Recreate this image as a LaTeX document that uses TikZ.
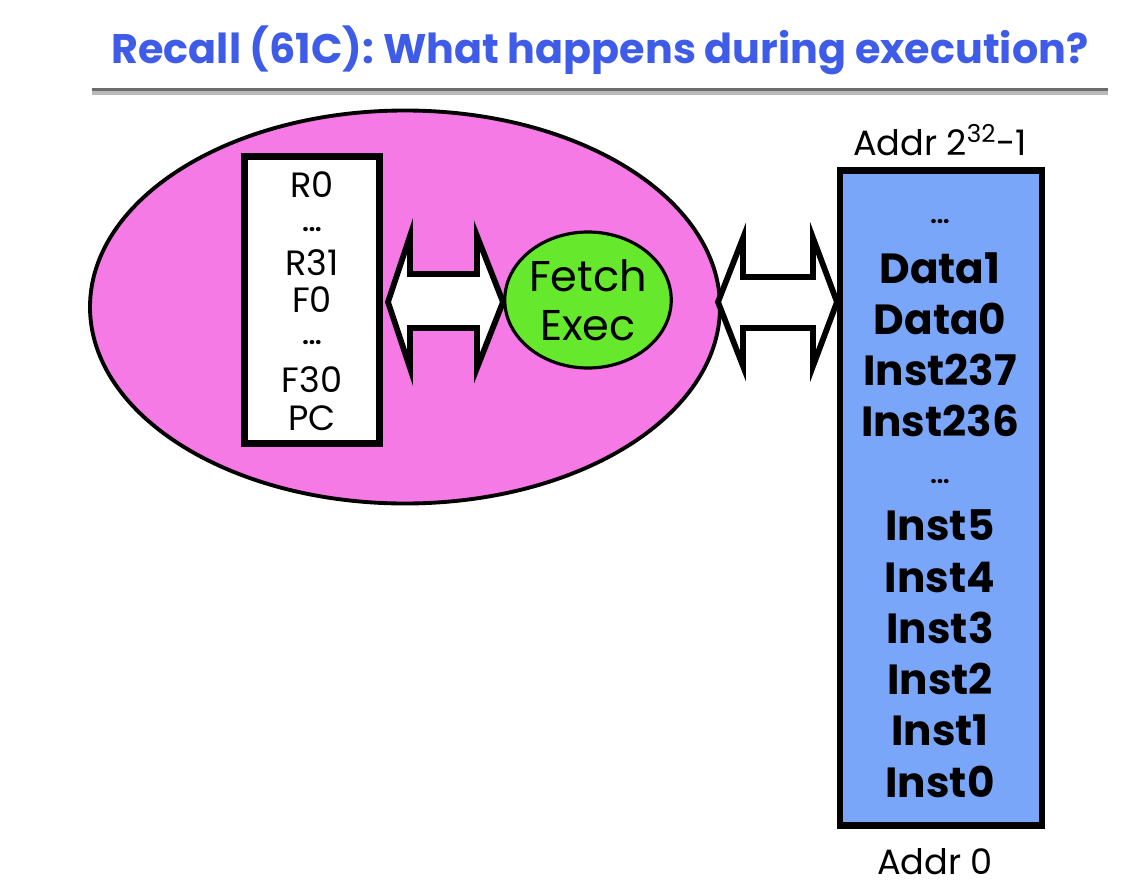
\documentclass[tikz,border=0pt]{standalone}
\usepackage{fontspec}
\setmainfont{Poppins}
\usetikzlibrary{calc,shapes.geometric}
\definecolor{titleblue}{RGB}{62,92,232}
\definecolor{cpupink}{RGB}{246,122,230}
\definecolor{fegreen}{RGB}{102,232,44}
\definecolor{memblue}{RGB}{122,166,250}
\tikzset{
  regtxt/.style={font=\fontsize{20}{20}\selectfont, anchor=center, inner sep=0pt},
  memtxt/.style={font=\fontsize{24}{24}\selectfont\bfseries, anchor=center, inner sep=0pt},
  dots/.style={font=\fontsize{13}{13}\selectfont\bfseries, anchor=center, inner sep=0pt},
  addrtxt/.style={font=\fontsize{20}{20}\selectfont, anchor=center, inner sep=0pt},
  bus/.style={draw=black, line width=3.3pt, fill=white, line join=miter},
}
\begin{document}
\begin{tikzpicture}[x=0.02cm, y=-0.02cm]
\useasboundingbox[fill=white] (0,0) rectangle (1126,889);
% title
\node[font=\fontsize{23.5}{23.5}\selectfont\bfseries, text=titleblue, anchor=center, inner sep=0pt] (title) at (600,50) {Recall (61C): What happens during execution?};
\draw[line width=3pt, gray!55] (92,92) -- (1108,92);
\draw[line width=2.2pt, gray!85!black] (92,89.5) -- (1108,89.5);
% CPU ellipse
\node[ellipse, draw=black, line width=2.2pt, fill=cpupink, minimum width=630*0.02cm, minimum height=393*0.02cm, inner sep=0pt] (cpu) at (405,307) {};
% register box
\node[draw=black, line width=3.8pt, fill=white, minimum width=135*0.02cm, minimum height=287*0.02cm, inner sep=0pt] (reg) at (312,300) {};
\node[regtxt] (r0) at (312,185) {R0};
\node[dots] (d1) at (312,230) {...};
\node[regtxt] (r31) at (312,263) {R31};
\node[regtxt] (f0) at (312,300) {F0};
\node[dots] (d2) at (312,343) {...};
\node[regtxt] (f30) at (312,380) {F30};
\node[regtxt] (pc) at (312,418) {PC};
% Fetch/Exec
\node[ellipse, draw=black, line width=1.8pt, fill=fegreen, minimum width=166*0.02cm, minimum height=136*0.02cm, inner sep=0pt, align=center, font=\fontsize{24.5}{30}\selectfont] (fe) at (588,300) {Fetch\\[-2pt]Exec};
% left bus
\draw[bus] (388,302) -- (410,236) -- (410,274) -- (477,274) -- (477,236) -- (503,302)
  -- (477,368) -- (477,328) -- (410,328) -- (410,368) -- cycle;
% right bus
\draw[bus] (718,302) -- (743,238) -- (743,277) -- (813,277) -- (813,238) -- (837,302)
  -- (813,366) -- (813,328) -- (743,328) -- (743,366) -- cycle;
% memory
\node[draw=black, line width=3.8pt, fill=memblue, minimum width=202*0.02cm, minimum height=655*0.02cm, inner sep=0pt] (mem) at (941,498) {};
\node[addrtxt] (atop) at (940,140) {Addr 2\textsuperscript{32}-1};
\node[addrtxt] (abot) at (935,862) {Addr 0};
\node[dots] (m0) at (940,222) {...};
\node[memtxt] (m1) at (940,268) {Data1};
\node[memtxt] (m2) at (940,319) {Data0};
\node[memtxt] (m3) at (940,370) {Inst237};
\node[memtxt] (m4) at (940,421) {Inst236};
\node[dots] (m5) at (940,482) {...};
\node[memtxt] (m6) at (940,525) {Inst5};
\node[memtxt] (m7) at (940,577) {Inst4};
\node[memtxt] (m8) at (940,628) {Inst3};
\node[memtxt] (m9) at (940,679) {Inst2};
\node[memtxt] (m10) at (940,730) {Inst1};
\node[memtxt] (m11) at (940,782) {Inst0};
\end{tikzpicture}
\end{document}
